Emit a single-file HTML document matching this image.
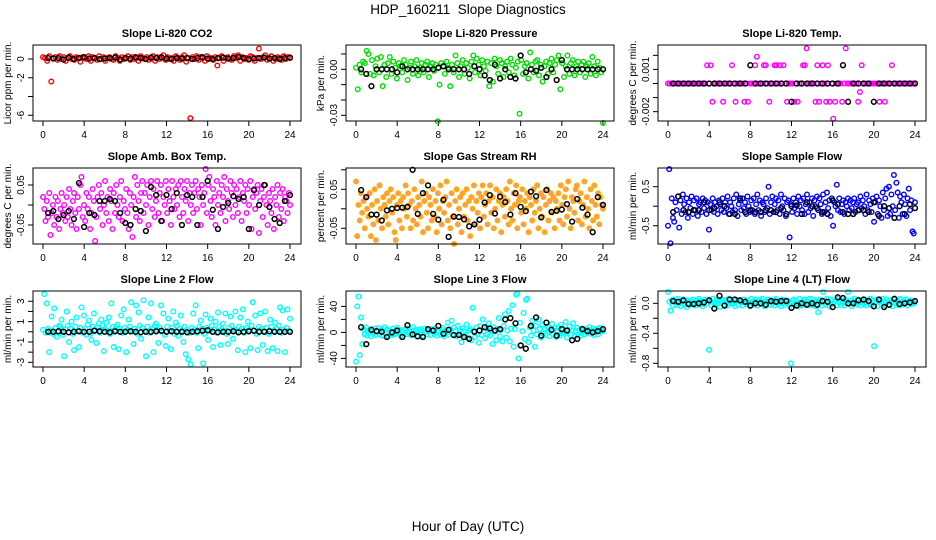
<!DOCTYPE html>
<html><head><meta charset="utf-8">
<style>
html,body{margin:0;padding:0;background:#fff;}
svg{display:block;font-family:"Liberation Sans",sans-serif;}
</style></head>
<body>
<svg id="chart" width="936" height="540" viewBox="0 0 936 540" xmlns="http://www.w3.org/2000/svg">
<rect width="936" height="540" fill="#fff"/>
<text x="468" y="14" text-anchor="middle" font-size="13.5">HDP_160211&#160; Slope Diagnostics</text>
<text x="468" y="531" text-anchor="middle" font-size="13.5">Hour of Day (UTC)</text>
<g id="panels"></g>
</svg>
<script>
const xTickValues = [0,4,8,12,16,20,24];

const co2Values = [0.2,0.1,-0.2,0.3,-2.4,0.1,0.2,-0.1,0.3,0,0.2,-0.2,0.1,0.3,0,-0.1,0.2,0.1,-0.3,0.2,
 0.1,0,0.3,-0.2,0.2,0.1,-0.1,0.3,0,0.2,-0.2,0.1,0.2,0,-0.1,0.3,0.1,-0.2,0.2,0,
 0.1,0.3,-0.1,0.2,0,0.1,-0.2,0.3,0.1,0,0.2,-0.1,0.1,0.3,-0.2,0.2,0,0.1,0.4,-0.1,
 0.2,0,0.1,-0.2,0.3,0.1,-0.1,0.2,0.4,-0.3,0.1,-6.3,0.2,0,0.3,-0.1,0.2,0.1,-0.2,0.3,
 0,0.1,-0.1,0.2,-0.7,0.1,0.3,-0.2,0.1,0.2,0,-0.1,0.3,0.1,0.4,-0.2,0.2,0,0.1,-0.1,
 0.3,0.2,-0.2,0.1,1.1,0,0.2,0.4,-0.1,0.1,0.3,-0.2,0,0.2,0.1,-0.1,0.3,0,0.2,0.1];
const co2Black = [0.1,0.05,0.1,-0.05,0.15,0,0.1,0.2,0.05,0.1,0,0.05,0.1,0.15,-0.05,0.1,0.05,0.2,0.1,0,0.15,0.1,0.2,0.05,0,0.1,0.05,0.1,0,0.1,0.2,0.05,0,0.1,0.15,0.05,0.1,0.2,0.1,0,0.05,0.1,0.15,0.05,0.1,0,0.1,0.15];

const pressValues = [0.001,-0.013,0.003,-0.002,0.005,0.004,0.012,0.010,-0.003,0.006,-0.004,0.002,0.007,-0.002,0.008,-0.011,0.003,-0.005,0.004,0.008,
 -0.003,0.005,0.001,-0.006,0.004,0.002,-0.002,0.006,0.003,-0.007,0.001,0.005,-0.003,0.002,0.006,-0.004,0.001,0.004,-0.002,0.003,
 0.005,-0.005,0.002,0.004,-0.001,0.003,-0.034,-0.010,0.004,0.002,-0.003,0.005,0.001,-0.011,0.003,-0.002,0.009,0.004,-0.005,0.002,
 0.006,-0.003,0.004,0.001,-0.006,0.005,0.009,-0.002,0.007,0.003,-0.004,0.006,0.002,-0.001,0.005,-0.011,0.004,-0.008,0.007,0.002,
 -0.003,0.006,0.004,-0.005,0.002,0.005,-0.002,0.007,0.003,-0.004,0.001,0.005,-0.029,0.006,-0.003,0.002,0.004,-0.006,0.011,0.003,
 -0.002,0.005,0.006,-0.004,0.003,-0.008,0.002,0.005,-0.003,0.004,0.007,-0.002,0.003,0.006,0.009,-0.013,0.004,-0.005,0.002,0.009,
 -0.003,0.004,0.006,-0.004,0.002,0.005,-0.002,0.003,0.005,-0.005,0.002,0.004,-0.003,0.008,0.002,-0.004,0.005,0.001,-0.002,-0.035];
const pressBlack = [0,-0.003,-0.011,0,0,0,0,-0.002,0.002,0,0,0,0,0,0,0.001,0.002,0,0,0,0,-0.003,0.002,0,-0.004,-0.007,0.003,-0.006,0,-0.005,-0.006,0.009,-0.002,0,-0.001,0.001,-0.005,0,-0.007,0.006,0,0,0,0,0,0,0,0];

const tempValues = [0,0,0,0,0,0,0,0,0,0,0,0,0,0,0,0,0,0,0,0,
 0,0,0.0013,0,0.0013,-0.0013,0,0,0,0,0,-0.0013,0,0,0,0,0.0013,0,-0.0013,0,
 0,0,0,-0.0013,0,-0.0013,0,0,0,0.0013,0.0019,0,0,0,0.0013,0.0013,0,-0.0013,0,0,
 0.0013,0.0013,0,0.0013,0,0.0013,0,-0.0013,0,0,0,-0.0013,0,-0.0013,0,0,0.0013,0.0013,0.0025,0,
 0,0,0,-0.0013,0.0013,-0.0013,0,0.0013,0,-0.0013,0.0013,-0.0013,0,-0.0025,-0.0013,0,0,0,-0.0013,0,
 0.0025,0,0,0,0,0,0,-0.0013,-0.0006,0.0013,0,0,0,0,0,0,0,0,0,-0.0013,
 0,0,-0.0013,0,0,0,0.0013,0,0,0,0,0,0,0,0,0,0,0,0,0];
const tempBlack = [0,0,0,0,0,0,0,0,0,0,0,0,0,0,0,0.0013,0,0,0,0,0,0,0,-0.0013,0,0,0,0,0,0,0,0,0,0.0013,-0.0013,0,0,0,0,-0.0013,0,0,0,0,0,0,0,0];

const ambValues = [0.02,-0.01,-0.04,0.01,-0.03,0.03,-0.075,-0.02,0.00,-0.05,0.02,-0.03,0.01,-0.06,-0.01,0.03,-0.02,0.00,-0.04,0.02,
 -0.03,0.04,-0.01,-0.05,0.01,0.03,-0.02,-0.06,0.02,-0.01,0.05,0.07,-0.03,0.00,-0.04,0.03,-0.01,0.02,-0.06,-0.02,
 0.04,0.01,-0.09,-0.03,0.02,0.05,-0.01,0.03,-0.05,0.00,0.06,-0.02,0.02,-0.04,0.04,0.01,-0.06,0.03,-0.02,0.05,
 0.00,-0.03,0.02,0.06,-0.04,0.01,-0.01,0.04,-0.02,-0.06,0.03,0.00,-0.08,0.02,0.07,-0.03,0.05,0.01,-0.04,0.03,
 0.06,-0.02,0.03,0.00,0.05,-0.05,0.02,0.06,-0.01,0.04,-0.03,0.01,0.06,-0.02,0.03,0.05,-0.04,0.02,0.00,0.06,
 -0.02,0.04,0.01,-0.05,0.06,0.02,-0.01,0.04,0.00,0.05,-0.03,0.06,0.02,-0.02,0.04,0.01,0.06,-0.04,0.03,0.00,
 0.05,-0.02,0.03,0.06,-0.01,0.04,0.02,-0.05,0.05,0.00,0.03,0.09,-0.02,0.05,0.07,0.01,-0.03,0.04,0.02,-0.05,
 0.06,0.00,0.03,-0.02,0.05,0.02,0.07,-0.04,0.04,0.01,-0.01,0.06,0.03,-0.03,0.05,0.00,0.04,-0.02,0.02,0.06,
 -0.04,0.03,0.01,0.05,-0.02,0.04,0.00,0.06,-0.06,0.02,0.04,-0.01,0.03,0.05,-0.07,0.01,0.04,-0.03,0.02,0.05,
 0.00,-0.05,0.03,0.01,-0.02,0.04,-0.06,0.02,0.00,0.05,-0.03,0.03,-0.01,0.04,-0.04,0.02,0.01,-0.02,0.03,0.00];
const ambBlack = [-0.02,-0.015,-0.035,-0.025,-0.015,-0.035,0.055,-0.055,-0.02,-0.025,0.01,0.01,0.015,0.01,-0.02,-0.045,-0.05,-0.01,-0.015,-0.065,0.045,0.025,-0.04,0.025,-0.01,0.03,-0.05,0.025,0.02,-0.05,0.02,0.06,-0.012,-0.06,-0.005,0.005,0.022,0.015,0.02,-0.06,0.037,0,0.05,-0.005,-0.035,-0.045,0.01,0.025];

const rhValues = [0.07,-0.07,0.01,-0.03,0.04,-0.01,0.02,-0.05,0.03,0.00,-0.02,0.04,-0.07,0.01,-0.04,0.05,-0.08,0.02,-0.03,0.06,
 0.00,-0.05,0.03,0.01,-0.02,0.04,-0.04,0.02,0.05,-0.01,0.03,-0.06,-0.08,0.01,0.04,-0.03,0.02,-0.05,0.03,0.00,
 0.06,-0.02,0.04,0.01,-0.05,0.02,-0.03,0.05,0.00,-0.04,0.03,0.01,-0.02,0.07,-0.06,0.02,0.04,-0.01,-0.05,0.03,
 0.01,-0.03,0.05,-0.02,0.02,-0.06,0.04,0.00,0.06,-0.04,0.02,-0.01,0.03,0.07,-0.03,0.01,-0.05,0.04,-0.02,-0.09,
 0.02,0.05,-0.04,0.00,0.03,-0.06,0.04,-0.02,0.01,0.05,-0.03,0.02,-0.07,0.03,0.00,0.06,-0.04,0.02,-0.01,0.04,
 -0.05,0.03,0.06,-0.02,0.01,0.04,-0.04,0.02,0.06,-0.01,0.03,-0.05,0.00,0.05,-0.03,0.02,0.04,-0.06,0.01,0.03,
 -0.02,0.05,0.02,-0.04,0.07,0.00,-0.03,0.04,0.01,0.06,-0.05,0.02,0.03,-0.01,0.05,-0.04,0.02,0.00,0.04,-0.06,
 0.03,0.01,-0.03,0.05,-0.01,0.02,0.06,-0.05,0.00,0.04,-0.02,0.03,-0.06,0.01,0.05,-0.03,0.02,0.04,-0.01,0.03,
 -0.05,0.02,0.00,0.04,-0.03,0.06,0.01,-0.04,0.03,0.05,-0.02,0.07,0.00,-0.05,0.03,0.02,-0.01,0.05,0.06,-0.03,
 0.02,0.04,-0.04,0.01,0.07,-0.02,0.03,0.00,-0.05,0.05,0.02,-0.03,0.06,0.01,-0.02,0.04,-0.04,0.03,0.01,0.00];
const rhBlack = [0.048,0.03,-0.015,-0.015,-0.03,-0.004,0.0,0.002,0.003,0.005,0.1,-0.013,0.04,0.06,-0.013,-0.028,0.023,-0.072,-0.02,-0.021,-0.027,-0.045,-0.04,-0.028,0.016,0.035,-0.012,0.031,0.017,-0.015,0.04,0.005,-0.006,0.044,0.032,-0.022,0.048,-0.008,-0.005,-0.002,0.012,-0.033,0.025,0.003,-0.015,-0.06,0.03,0.01];

const flowValues = [-0.5,0.95,-0.95,0.2,-0.3,-0.4,0.1,-0.1,0.25,-0.55,0.15,-0.2,0.3,0.05,-0.15,0.2,-0.3,0.1,-0.05,0.25,
 -0.2,0.15,-0.1,0.2,-0.25,0.05,0.1,-0.15,0.2,-0.05,0.15,-0.2,0.1,-0.6,0.05,-0.1,0.2,-0.15,0.1,0.0,
 -0.2,0.15,0.05,-0.1,0.2,-0.15,0.1,-0.05,0.25,-0.2,0.1,0.0,-0.15,0.2,-0.1,0.3,-0.25,0.05,0.15,-0.1,
 0.2,-0.05,0.1,-0.2,0.25,0.0,-0.15,0.15,-0.1,0.2,-0.2,0.05,0.3,-0.1,0.15,-0.25,0.1,0.05,-0.15,0.2,
 -0.05,0.5,-0.2,0.1,0.25,-0.15,0.05,0.2,-0.1,0.15,-0.2,0.3,0.0,-0.1,0.2,-0.25,0.1,0.15,-0.8,0.05,
 -0.15,0.2,-0.05,0.1,-0.2,0.25,0.0,0.15,-0.1,0.2,-0.2,0.05,0.3,-0.15,0.1,-0.05,0.2,-0.25,0.15,0.0,
 0.25,-0.1,0.2,0.05,-0.2,0.3,-0.15,0.1,0.35,-0.05,0.15,-0.25,0.2,-0.5,0.1,0.0,0.55,-0.1,0.2,-0.15,
 0.05,0.15,-0.2,0.1,0.0,0.2,-0.1,0.15,-0.05,0.1,0.2,-0.15,0.05,0.1,-0.1,0.25,-0.05,0.15,0.0,-0.2,
 0.3,-0.1,0.15,0.05,-0.15,0.2,-0.4,0.1,0.25,-0.2,0.15,0.0,-0.3,0.35,-0.1,0.2,0.45,-0.25,0.5,-0.2,
 0.3,0.0,0.8,-0.1,0.6,0.35,-0.3,0.25,0.1,-0.2,0.3,0.05,-0.25,0.2,0.45,-0.1,0.15,-0.65,-0.7,0.1];
const flowBlack = [-0.15,0.25,-0.1,-0.15,-0.1,-0.1,0.1,-0.1,-0.05,0.1,0,-0.2,-0.2,0.2,-0.15,-0.1,-0.15,-0.15,-0.1,-0.1,-0.15,-0.05,-0.2,0,0.02,-0.2,0.1,0.0,-0.05,-0.15,-0.2,0.15,0.05,-0.15,-0.2,-0.2,-0.1,-0.1,-0.15,0.1,-0.25,0.0,-0.05,-0.3,0,-0.2,0.05,-0.05];

const line2Values = [0.2,3.7,-0.1,2.8,0.3,-2.0,0.1,1.5,-0.2,2.3,0.4,-0.5,0.0,0.6,0.5,1.2,-0.3,-2.4,0.2,2.0,
 0.6,-1.0,0.3,1.0,-0.2,-1.8,0.5,1.4,0.1,-1.5,0.4,2.4,-0.1,1.6,0.3,-0.3,0.7,1.1,-0.2,-0.8,
 0.5,1.8,0.2,-1.1,0.4,0.8,-0.1,1.2,0.6,-1.9,0.3,0.9,0.1,1.4,-0.2,2.8,0.5,-1.5,0.2,0.5,
 0.7,-1.7,0.3,1.6,-0.1,2.2,0.4,-2.0,0.2,1.2,0.5,2.9,0.0,-1.2,0.3,2.6,-0.2,1.9,0.6,-0.7,
 0.4,3.1,0.1,-2.4,0.5,1.4,-0.1,2.8,0.3,-2.0,0.6,0.8,0.2,-1.1,0.4,2.6,0.0,1.8,-0.3,-1.4,
 0.5,1.3,0.1,-1.7,0.4,2.0,-0.2,0.9,0.6,-0.4,0.3,1.6,0.1,-1.0,0.5,-2.2,0.2,-2.7,-0.1,-3.2,
 0.4,1.8,0.2,2.6,-0.1,-1.6,0.5,1.1,0.3,-3.1,-0.2,1.7,0.4,-0.8,0.1,1.3,0.6,-1.5,0.2,1.0,
 -0.1,1.9,0.5,-1.3,0.3,0.8,0.1,1.8,-0.2,-1.2,0.4,1.5,0.6,-0.7,0.2,2.0,0.0,-1.8,0.5,1.4,
 0.3,2.2,-0.1,-2.0,0.4,1.0,0.2,-1.6,0.6,2.9,0.1,1.6,-0.2,-1.8,0.5,1.8,0.3,-1.3,0.1,2.0,
 0.4,-1.9,-0.2,1.2,0.5,-1.6,0.1,0.9,0.3,-1.9,0.6,2.4,-0.1,2.1,0.2,-2.0,0.4,2.2,0.1,1.3];
const line2Black = [0,0,0.05,0,-0.05,0,0.05,0,0,0.1,0.05,0,-0.05,0.05,0,0,0.05,0,-0.05,0,0,0.05,0.1,0,0.05,0,0,-0.05,0,0.05,0.1,0.15,0,-0.05,0,0,0.05,-0.05,0,0.05,0.1,0,0,0.05,0,0,0,0];

const line3Values = [-45,40,55,-35,23,-18,5,-3,8,-5,2,4,-6,3,-2,6,-4,1,7,-3,
 4,-5,2,8,-2,5,-6,3,1,-4,6,-3,2,7,-1,4,-5,3,0,-2,
 5,-3,6,1,-4,3,8,-2,4,-6,2,5,-1,3,-5,6,0,-3,4,2,
 -4,5,2,-2,6,-5,3,1,-3,4,7,-6,2,0,15,-3,5,18,-4,8,
 2,-6,10,-3,4,-15,6,1,-4,12,-8,3,5,-12,38,2,-7,8,-3,-16,
 10,-4,20,2,-9,6,-2,14,-5,3,-18,8,1,-12,5,22,-6,4,-14,10,
 28,-8,3,33,-14,6,42,-22,5,58,60,-40,15,-20,2,30,-10,50,52,-15,
 8,-5,18,3,-22,10,-3,20,5,-8,12,-2,6,-4,9,2,-6,4,13,-3,
 6,-7,3,8,-5,12,-2,5,0,16,-8,4,9,-4,3,14,-6,2,7,-3,
 4,-5,6,2,-3,5,-1,4,8,-2,3,6,-4,2,5,-3,7,1,3,2];
const line3Black = [8,-18,4,2,1,-7,0,3,-7,11,-3,-6,-7,5,3,10,-2,4,-4,-4,-7,-10,1,3,8,6,3,5,20,22,14,-20,-25,10,23,-5,15,4,-5,5,3,-12,-10,5,2,0,2,5];

const line4Values = [0.15,0.02,-0.1,0.04,-0.03,0.05,0.01,-0.02,0.06,0.0,-0.04,0.03,0.05,-0.01,0.02,-0.05,0.04,0.0,0.03,-0.02,
 0.05,0.01,-0.03,0.04,0.0,0.06,-0.02,0.03,-0.04,0.02,0.05,-0.01,0.04,-0.62,0.02,-0.03,0.06,0.01,-0.02,0.04,
 0.0,0.03,-0.05,0.02,0.05,-0.02,0.04,0.01,-0.03,0.06,0.0,0.03,-0.01,0.05,-0.04,0.02,0.04,-0.02,0.03,0.01,
 -0.03,0.05,0.02,-0.01,0.04,0.0,-0.04,0.06,0.02,-0.02,0.03,0.05,-0.03,0.01,0.04,-0.01,0.06,0.02,-0.04,0.03,
 0.01,0.05,-0.02,0.03,0.0,0.04,-0.03,0.06,0.02,-0.01,0.03,-0.04,0.05,0.01,-0.02,0.04,0.0,0.03,-0.03,-0.8,
 0.02,0.05,-0.02,0.04,0.0,-0.04,0.06,0.01,-0.03,0.03,0.05,-0.01,0.04,-0.02,0.06,0.0,-0.03,0.05,0.02,-0.04,
 0.03,-0.12,0.05,0.01,-0.03,0.15,0.04,-0.02,0.06,0.0,-0.04,0.03,0.05,-0.01,0.02,0.04,-0.03,0.06,0.01,-0.02,
 0.04,0.0,-0.03,0.05,0.02,0.15,-0.01,0.04,-0.04,0.03,0.06,0.0,-0.02,0.05,0.01,-0.03,0.04,0.02,-0.01,0.05,
 -0.03,0.03,0.0,0.06,-0.02,0.04,-0.57,0.01,0.05,-0.04,0.02,0.04,-0.01,0.06,0.0,-0.03,0.05,0.02,-0.02,0.04,
 0.01,-0.04,0.05,0.02,0.0,0.04,-0.03,0.06,0.01,-0.02,0.04,0.0,0.05,-0.03,0.02,0.04,-0.01,0.03,0.0,0.02];
const line4Black = [0.03,0.02,0.04,-0.01,-0.01,0.0,0.01,0.04,-0.07,0.1,-0.03,0.05,0.05,0.04,0.02,-0.03,0.0,0.0,-0.02,0.03,0.02,0.03,0.03,-0.06,-0.03,0.0,-0.02,0.0,-0.02,0.03,0.02,-0.05,0.08,0.07,0.0,0.0,0.04,0.05,0.03,-0.04,0.05,-0.05,-0.02,0.06,-0.01,0.0,0.01,0.03];

const panelTitles = ["Slope Li-820 CO2","Slope Li-820 Pressure","Slope Li-820 Temp.","Slope Amb. Box Temp.","Slope Gas Stream RH","Slope Sample Flow","Slope Line 2 Flow","Slope Line 3 Flow","Slope Line 4 (LT) Flow"];
const yTitles = ["Licor ppm per min.","kPa per min.","degrees C per min.","degrees C per min.","percent per min.","ml/min per min.","ml/min per min.","ml/min per min.","ml/min per min."];
const yTicks = [[0,-2,-4,-6],[0.01,0,-0.01,-0.02,-0.03],[0.002,0.001,0,-0.001,-0.002],[0.05,0,-0.05],[0.1,0.05,0,-0.05],[0.5,0,-0.5],[3,2,1,0,-1,-2,-3],[40,20,0,-20,-40],[0,-0.2,-0.4,-0.6,-0.8]];
const yTickLabels = [["0","-2","","-6"],["","0.00","","","-0.03"],["","0.001","","","-0.002"],["0.05","","-0.05"],["","0.05","","-0.05"],["0.5","","-0.5"],["3","","1","","-1","","-3"],["40","","0","","-40"],["0.0","","-0.4","","-0.8"]];
const yLims = [[-6.61,1.49],[-0.03372,0.01585],[-0.002664,0.002736],[-0.0975,0.0925],[-0.0903,0.1046],[-0.969,0.979],[-3.46,4.01],[-53.2,63.7],[-0.849,0.164]];
const colorSeries = [co2Values,pressValues,tempValues,ambValues,rhValues,flowValues,line2Values,line3Values,line4Values];
const blackSeries = [co2Black,pressBlack,tempBlack,ambBlack,rhBlack,flowBlack,line2Black,line3Black,line4Black];
const colors = ["#ff0000","#00dd00","#ff00ff","#ff00ff","#ffb000","#0000ff","#00ffff","#00ffff","#00ffff"];
const fills = ["none","none","none","none","rgba(240,60,20,0.55)","none","none","none","none"];
const panelNames = ["co2","pressure","li820-temp","amb-box-temp","gas-stream-rh","sample-flow","line2-flow","line3-flow","line4-flow"];

const NS = "http://www.w3.org/2000/svg";
const root = document.getElementById("panels");
function mk(tag, attrs, parent){const e=document.createElementNS(NS,tag);for(const k in attrs)e.setAttribute(k,attrs[k]);parent.appendChild(e);return e;}

const colLeft=[33,346,658], rowTop=[45,168,291], W=268, H=76;
for(let p=0;p<9;p++){
  const L=colLeft[p%3], T=rowTop[Math.floor(p/3)];
  const g=mk("g",{},root);
  
  
  const xs = t => L+10+t*(247/24);
  const [lo,hi]=yLims[p];
  const ys = v => T+H-(v-lo)/(hi-lo)*H;
  const title=mk("text",{x:L+W/2,y:T-8,"text-anchor":"middle","font-size":"11","font-weight":"bold"},g);
  title.textContent=panelTitles[p];
  
  
  xTickValues.forEach(t=>{
    mk("line",{x1:xs(t),x2:xs(t),y1:T+H,y2:T+H+5,stroke:"#000","stroke-width":"1"},g);
    const tl=mk("text",{x:xs(t),y:T+H+17,"text-anchor":"middle","font-size":"10"},g);
    tl.textContent=String(t);
    
    
  });
  yTicks[p].forEach((v,i)=>{
    const y=ys(v);
    mk("line",{x1:L-5,x2:L,y1:y,y2:y,stroke:"#000","stroke-width":"1"},g);
    if(yTickLabels[p][i]){
      const tl=mk("text",{x:0,y:0,transform:`translate(${L-9},${y}) rotate(-90)`,"text-anchor":"middle","font-size":"10"},g);
      tl.textContent=yTickLabels[p][i];
      
      
    }
  });
  const yt=mk("text",{x:0,y:0,transform:`translate(${L-22},${T+H/2}) rotate(-90)`,"text-anchor":"middle","font-size":"10"},g);
  yt.textContent=yTitles[p];
  
  
  const cs=colorSeries[p], n=cs.length;
  const cg=mk("g",{fill:fills[p],stroke:colors[p],"stroke-width":"1.4"},g);
  
  
  cs.forEach((v,i)=>{
    const c=mk("circle",{cx:xs(i*24/(n-1)),cy:ys(v),r:"2.3"},cg);
    
    
  });
  const bs=blackSeries[p];
  const bg=mk("g",{fill:"none",stroke:"#000","stroke-width":"1.5"},g);
  
  
  bs.forEach((v,k)=>{
    const c=mk("circle",{cx:xs((k+1)*0.5),cy:ys(v),r:"2.4"},bg);
    
    
  });
  const box=mk("rect",{x:L,y:T,width:W,height:H,fill:"none",stroke:"#000","stroke-width":"1"},g);
  
  
}
</script>
</body></html>
